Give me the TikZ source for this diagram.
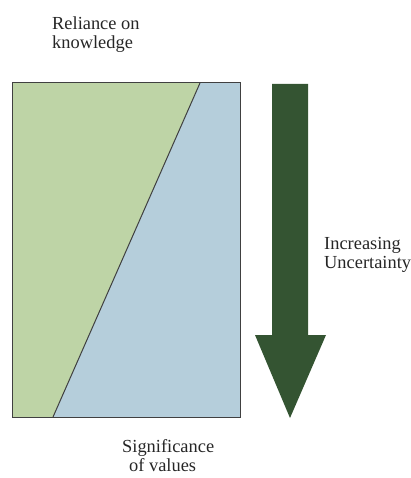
\documentclass[tikz,border=0pt]{standalone}
\usepackage{fontspec}
\setmainfont{Liberation Serif}
\usepackage{tikz}
\usetikzlibrary{positioning}

\definecolor{knowgreen}{RGB}{190,212,166}
\definecolor{valueblue}{RGB}{181,206,219}
\definecolor{arrowgreen}{RGB}{52,84,50}

\begin{document}
\begin{tikzpicture}[
  x=1pt, y=-1pt,
  lbl/.style={font=\fontsize{18.4}{19}\selectfont, align=left, inner sep=0pt,
              text=black!85},
  edge/.style={draw=black!75, line width=1pt},
]
\useasboundingbox (0,0) rectangle (411,478);

% box corners and the split line
\coordinate (tl) at (12,83);
\coordinate (tr) at (240,83);
\coordinate (br) at (240,417);
\coordinate (bl) at (12,417);
\coordinate (st) at (200,83);
\coordinate (sb) at (53,417);

\fill[knowgreen] (tl) -- (st) -- (sb) -- (bl) -- cycle;
\fill[valueblue] (st) -- (tr) -- (br) -- (sb) -- cycle;
\draw[edge] (tl) rectangle (br);
\draw[edge] (st) -- (sb);

% uncertainty arrow
\fill[arrowgreen] (272,84) -- (308,84) -- (308,335) -- (326,335)
     -- (290,418) -- (255,335) -- (272,335) -- cycle;

\node[lbl, anchor=north west] (rel) at (52,17) {Reliance on\\ knowledge};
\node[lbl, anchor=north west] (unc) at (324,237) {Increasing\\ Uncertainty};
\node[lbl, anchor=north west] (sig) at (122,439) {Significance\\ \hspace*{7pt}of values};

\end{tikzpicture}
\end{document}
